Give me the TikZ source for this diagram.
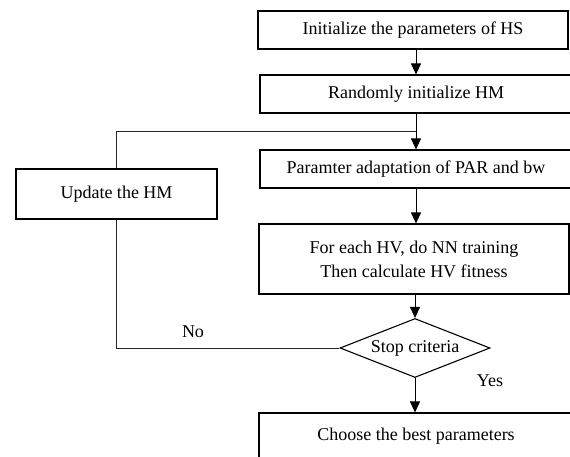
\documentclass[tikz,border=0pt]{standalone}
\usepackage{fontspec}
\setmainfont{Liberation Serif}
\usetikzlibrary{shapes.geometric,arrows.meta}
\begin{document}
\begin{tikzpicture}[x=1pt,y=-1pt,
  txt/.style={font=\fontsize{18}{24}\selectfont},
  box/.style={txt, draw, line width=1.1pt, rectangle, inner sep=0pt, align=center},
  dia/.style={draw, line width=1.1pt, diamond, inner sep=0pt},
  arr/.style={line width=1pt, -{Triangle[length=11pt,width=10pt]}},
  loop/.style={line width=0.8pt, draw=black!85}]
\useasboundingbox (0,0) rectangle (570,457);
\node[box, minimum width=310pt, minimum height=38pt] (b1) at (413,30) {Initialize the parameters of HS};
\node[box, minimum width=312pt, minimum height=38pt] (b2) at (416,94) {Randomly initialize HM};
\node[box, minimum width=312pt, minimum height=38pt] (b3) at (416,169) {Paramter adaptation of PAR and bw};
\node[box, minimum width=310pt, minimum height=70pt] (b4) at (414,259) {For each HV, do NN training\\Then calculate HV fitness};
\node[dia, minimum width=150pt, minimum height=59pt] (d) at (415,348) {};
\node[txt] (dt) at (d.center) {Stop criteria};
\node[box, minimum width=314pt, minimum height=46pt] (b5) at (416,436) {Choose the best parameters};
\node[box, minimum width=201pt, minimum height=50pt] (u) at (116.5,194) {Update the HM};
\coordinate (j) at (416,131);
\node[txt] (no) at (193,332) {No};
\node[txt] (yes) at (490,381) {Yes};
\draw[arr] (b1.south -| b2.north) -- (b2.north);
\draw[arr] (b2.south) -- (b3.north);
\draw[loop] (u.north) |- (j);
\draw[arr] (b3.south) -- (b4.north -| b3.south);
\draw[arr] (b4.south -| d.north) -- (d.north);
\draw[arr] (d.south) -- (b5.north -| d.south);
\draw[loop] (d.west) -| (u.south);
\end{tikzpicture}
\end{document}
